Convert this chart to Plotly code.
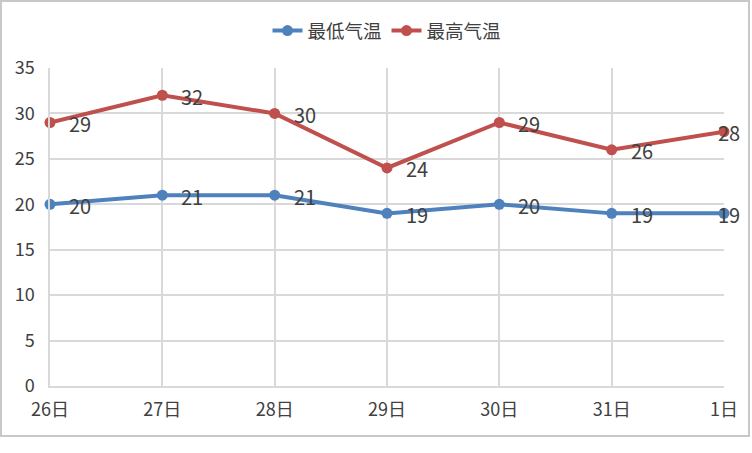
import plotly.graph_objects as go

categories = ["26日", "27日", "28日", "29日", "30日", "31日", "1日"]
low_temps = [20, 21, 21, 19, 20, 19, 19]
high_temps = [29, 32, 30, 24, 29, 26, 28]
series_names = ["最低气温", "最高气温"]
y_ticks = [0, 5, 10, 15, 20, 25, 30, 35]

colors = ["#4F81BD", "#C0504D"]
font_family = "Noto Sans CJK SC, Microsoft YaHei, sans-serif"
text_color = "#404040"

W, H = 752, 453
ml, mr, mt, mb = 50, 28, 68, 67
pw, ph = W - ml - mr, H - mt - mb

fig = go.Figure()
for name, vals, col in zip(series_names, [low_temps, high_temps], colors):
    fig.add_trace(go.Scatter(
        x=categories, y=vals, name=name, mode="lines+markers",
        line=dict(color=col, width=4),
        marker=dict(color=col, size=11),
        cliponaxis=False,
    ))

annotations = []
for vals in [low_temps, high_temps]:
    for i, (c, v) in enumerate(zip(categories, vals)):
        last = i == len(categories) - 1
        annotations.append(dict(
            x=c, y=v, text=str(v), showarrow=False,
            xanchor="left", yanchor="middle",
            xshift=-8 if last else 17, yshift=-1,
            font=dict(size=20, color=text_color, family=font_family),
        ))

# outer chart border in paper coords
bx0, bx1, by0, by1 = 1, 749, 1, 436
shapes = [dict(
    type="rect", xref="paper", yref="paper",
    x0=(bx0 - ml) / pw, x1=(bx1 - ml) / pw,
    y0=(H - mb - by1) / ph, y1=(H - mb - by0) / ph,
    line=dict(color="#C8C8C8", width=2), fillcolor="rgba(0,0,0,0)", layer="below",
)]

fig.update_layout(
    width=W, height=H,
    margin=dict(l=ml, r=mr, t=mt, b=mb),
    paper_bgcolor="white", plot_bgcolor="white",
    font=dict(family=font_family, color=text_color, size=18),
    legend=dict(orientation="h", x=0.5, xanchor="center", y=1.0 + (mt - 31) / ph,
                yanchor="middle", font=dict(size=18.5, color=text_color),
                itemwidth=30, tracegroupgap=0),
    xaxis=dict(
        type="category", range=[0, len(categories) - 1],
        showgrid=True, gridcolor="#D9D9D9", gridwidth=1.5,
        showline=True, linecolor="#D9D9D9", linewidth=2,
        ticks="", tickfont=dict(size=18, color=text_color),
        zeroline=False, ticklabelstandoff=6,
    ),
    yaxis=dict(
        range=[0, 35], tickvals=y_ticks,
        showgrid=True, gridcolor="#D9D9D9", gridwidth=1.5,
        showline=True, linecolor="#D9D9D9", linewidth=1.5,
        ticks="", tickfont=dict(size=18, color=text_color),
        zeroline=False, ticklabelstandoff=10,
    ),
    annotations=annotations,
    shapes=shapes,
    showlegend=True,
)

fig.write_html("out.html")
